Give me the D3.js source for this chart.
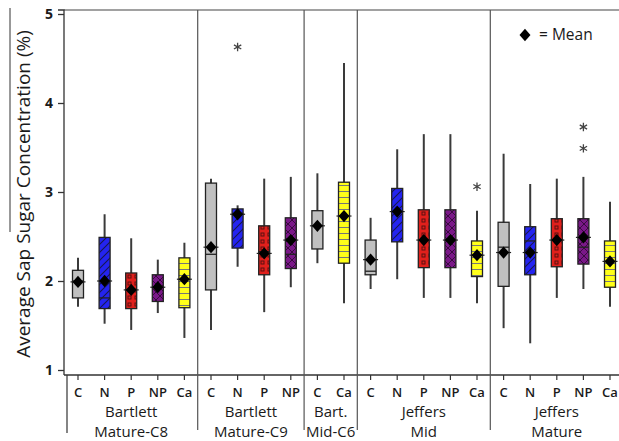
<!DOCTYPE html>
<html>
<head>
<meta charset="utf-8">
<script src="https://cdn.jsdelivr.net/npm/d3@7"></script>
<style>
  body { margin: 0; background: #fff; }
  text { font-family: "Open Sans", Lato, sans-serif; fill: #1a1a1a; }
</style>
</head>
<body>
<svg id="chart" width="619" height="441"></svg>
<script>
// groups along the x axis
const groupNames = [
  ["Bartlett", "Mature-C8"],
  ["Bartlett", "Mature-C9"],
  ["Bart.", "Mid-C6"],
  ["Jeffers", "Mid"],
  ["Jeffers", "Mature"]
];
const groupCats = [
  ["C", "N", "P", "NP", "Ca"],
  ["C", "N", "P", "NP"],
  ["C", "Ca"],
  ["C", "N", "P", "NP", "Ca"],
  ["C", "N", "P", "NP", "Ca"]
];

// box stats, one entry per box (groups in order)
const whiskerLow  = [1.71, 1.52, 1.45, 1.64, 1.36, 1.45, 2.16, 1.65, 1.93, 2.20, 1.75, 1.91, 2.02, 1.81, 1.81, 1.75, 1.47, 1.30, 1.81, 1.91, 1.71];
const q1          = [1.81, 1.69, 1.69, 1.77, 1.70, 1.90, 2.37, 2.07, 2.14, 2.36, 2.20, 2.07, 2.44, 2.15, 2.15, 2.05, 1.94, 2.07, 2.16, 2.19, 1.93];
const medians     = [2.00, 1.81, 1.90, 1.93, 2.02, 2.30, 2.76, 2.33, 2.30, 2.62, 2.73, 2.11, 2.78, 2.46, 2.46, 2.29, 2.38, 2.45, 2.46, 2.38, 2.22];
const q3          = [2.12, 2.49, 2.09, 2.07, 2.26, 3.10, 2.81, 2.62, 2.71, 2.79, 3.11, 2.46, 3.04, 2.80, 2.80, 2.45, 2.66, 2.61, 2.70, 2.70, 2.45];
const whiskerHigh = [2.26, 2.75, 2.48, 2.24, 2.43, 3.15, 2.85, 3.15, 3.17, 3.21, 4.45, 2.71, 3.48, 3.65, 3.65, 2.79, 3.43, 3.09, 3.15, 3.17, 2.89];
const means       = [1.99, 2.00, 1.90, 1.93, 2.02, 2.38, 2.75, 2.31, 2.46, 2.62, 2.73, 2.24, 2.78, 2.46, 2.46, 2.29, 2.32, 2.32, 2.46, 2.49, 2.22];

// outliers: [box index, value]
const outliers = [[6, 4.63], [15, 3.06], [19, 3.73], [19, 3.49]];

const yTicks = [1, 2, 3, 4, 5];

const fills = { C: "url(#pC)", N: "url(#pN)", P: "url(#pP)", NP: "url(#pNP)", Ca: "url(#pCa)" };

const svg = d3.select("#chart");
const plotLeft = 64, plotTop = 10, plotBottom = 375;

// flatten boxes
const boxes = [];
groupCats.forEach((cats, gi) => cats.forEach(c => boxes.push({ g: gi, cat: c })));
boxes.forEach((b, i) => {
  b.i = i;
  b.low = whiskerLow[i]; b.q1 = q1[i]; b.med = medians[i];
  b.q3 = q3[i]; b.high = whiskerHigh[i]; b.mean = means[i];
});

const x = d3.scalePoint().domain(boxes.map(b => b.i)).range([78, 610]);
const y = d3.scaleLinear().domain([1, 5]).range([370, 14]);

// patterns
const defs = svg.append("defs");
function pattern(id, w, h, bg, draw) {
  const p = defs.append("pattern").attr("id", id)
    .attr("patternUnits", "userSpaceOnUse").attr("width", w).attr("height", h);
  p.append("rect").attr("width", w).attr("height", h).attr("fill", bg);
  if (draw) draw(p);
}
pattern("pC", 6, 6, "#c0c0c0");
pattern("pN", 8, 8, "#2424f0", p => {
  p.append("path").attr("d", "M-1,9 L9,-1 M-1,1 L1,-1 M7,9 L9,7")
    .attr("stroke", "#161650").attr("stroke-width", 1.1);
});
pattern("pP", 7, 7, "#e0201c", p => {
  p.append("rect").attr("x", 2).attr("y", 2).attr("width", 3).attr("height", 3)
    .attr("fill", "none").attr("stroke", "#5a1010").attr("stroke-width", 1);
});
pattern("pNP", 8, 8, "#7a1888", p => {
  p.append("path").attr("d", "M0,0 L8,8 M8,0 L0,8")
    .attr("stroke", "#3a0a40").attr("stroke-width", 1);
});
pattern("pCa", 6, 6, "#ffff1a", p => {
  p.append("path").attr("d", "M0,5.5 L6,5.5").attr("stroke", "#777").attr("stroke-width", 1);
});

// frame
svg.append("line").attr("x1", plotLeft).attr("x2", 619).attr("y1", plotTop).attr("y2", plotTop)
  .attr("stroke", "#444").attr("stroke-width", 1.2);
svg.append("line").attr("x1", plotLeft).attr("x2", 619).attr("y1", plotBottom).attr("y2", plotBottom)
  .attr("stroke", "#333").attr("stroke-width", 1.5);

// y axis
const yAxis = svg.append("g").attr("transform", `translate(${plotLeft},0)`)
  .call(d3.axisLeft(y).tickValues(yTicks).tickSize(6).tickPadding(5).tickFormat(d3.format("d")));
yAxis.select(".domain").attr("d", `M-6,${plotTop}H0V${plotBottom}`).attr("stroke", "#333").attr("stroke-width", 1.3);
yAxis.selectAll(".tick line").attr("stroke", "#333").attr("stroke-width", 1.3);
yAxis.selectAll(".tick text").attr("font-size", 14).attr("font-weight", "bold")
  .attr("font-family", "'Open Sans', sans-serif").attr("fill", "#222");

// y title
svg.append("text")
  .attr("transform", "translate(30,194) rotate(-90)")
  .attr("text-anchor", "middle")
  .attr("font-size", 19)
  .text("Average Sap Sugar Concentration (%)");
svg.append("line").attr("x1", 10).attr("x2", 10).attr("y1", 8).attr("y2", 232)
  .attr("stroke", "#333").attr("stroke-width", 1);

// group separators
const firstIdx = [], lastIdx = [];
boxes.forEach(b => {
  if (firstIdx[b.g] === undefined) firstIdx[b.g] = b.i;
  lastIdx[b.g] = b.i;
});
svg.append("line").attr("x1", 67).attr("x2", 67).attr("y1", plotBottom).attr("y2", 433)
  .attr("stroke", "#333").attr("stroke-width", 1.2);
for (let g = 1; g < groupNames.length; g++) {
  const sx = (x(lastIdx[g - 1]) + x(firstIdx[g])) / 2;
  svg.append("line").attr("x1", sx).attr("x2", sx).attr("y1", plotTop).attr("y2", 430)
    .attr("stroke", "#555").attr("stroke-width", 1.2);
}

// x ticks and labels
const xg = svg.append("g");
xg.selectAll(".xt").data(boxes).join("line")
  .attr("x1", d => x(d.i)).attr("x2", d => x(d.i))
  .attr("y1", plotBottom).attr("y2", plotBottom + 5)
  .attr("stroke", "#333").attr("stroke-width", 1.2);
xg.selectAll(".xl").data(boxes).join("text")
  .attr("x", d => x(d.i)).attr("y", 397)
  .attr("text-anchor", "middle").attr("font-size", 13).attr("font-weight", 600)
  .text(d => d.cat);

groupNames.forEach((lines, g) => {
  const cx = (x(firstIdx[g]) + x(lastIdx[g])) / 2;
  lines.forEach((t, k) => {
    svg.append("text").attr("x", cx).attr("y", 417 + k * 20)
      .attr("text-anchor", "middle").attr("font-size", 15).text(t);
  });
});

// boxes
const bw = 11;
const bg = svg.append("g").selectAll("g").data(boxes).join("g");
bg.append("line")
  .attr("x1", d => x(d.i)).attr("x2", d => x(d.i))
  .attr("y1", d => y(d.high)).attr("y2", d => y(d.low))
  .attr("stroke", "#3a3a3a").attr("stroke-width", 2);
bg.append("rect")
  .attr("x", d => x(d.i) - bw / 2).attr("width", bw)
  .attr("y", d => y(d.q3)).attr("height", d => y(d.q1) - y(d.q3))
  .attr("fill", d => fills[d.cat])
  .attr("stroke", "#222").attr("stroke-width", 1.3);
bg.append("line")
  .attr("x1", d => x(d.i) - bw / 2).attr("x2", d => x(d.i) + bw / 2)
  .attr("y1", d => y(d.med)).attr("y2", d => y(d.med))
  .attr("stroke", "#222").attr("stroke-width", 1.3);
bg.append("line")
  .attr("x1", d => x(d.i) - bw / 2 - 2).attr("x2", d => x(d.i) + bw / 2 + 2)
  .attr("y1", d => y(d.mean)).attr("y2", d => y(d.mean))
  .attr("stroke", "#222").attr("stroke-width", 1.2);

const diamond = d3.symbol(d3.symbolSquare, 60);
bg.append("path")
  .attr("d", diamond)
  .attr("transform", d => `translate(${x(d.i)},${y(d.mean)}) scale(1,1.12) rotate(45)`)
  .attr("fill", "#000");

// outliers
svg.append("g").selectAll("path").data(outliers).join("path")
  .attr("d", d3.symbol(d3.symbolAsterisk, 50))
  .attr("transform", d => `translate(${x(d[0])},${y(d[1])})`)
  .attr("fill", "none").attr("stroke", "#444").attr("stroke-width", 1.3);

// legend
svg.append("path")
  .attr("d", diamond)
  .attr("transform", "translate(525,35) scale(1,1.12) rotate(45)")
  .attr("fill", "#000");
svg.append("text").attr("x", 539).attr("y", 40).attr("font-size", 15.5).text("= Mean");
</script>
</body>
</html>
